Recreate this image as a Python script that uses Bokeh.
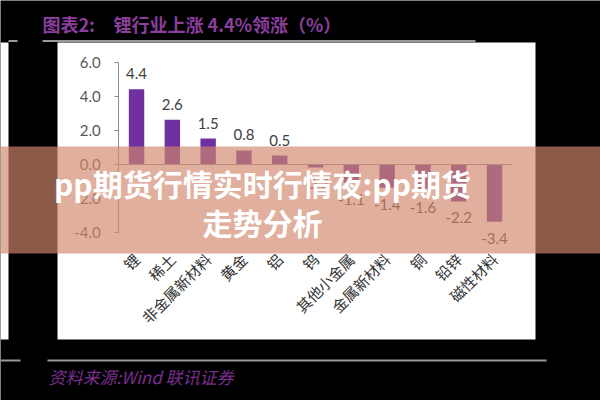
import math
from bokeh.plotting import figure
from bokeh.models import (ColumnDataSource, Range1d, LinearAxis, FixedTicker,
                          BoxAnnotation, Label, NumeralTickFormatter)
from bokeh.embed import file_html
from bokeh.resources import INLINE
from bokeh.core.properties import value

# ---- data ----
categories = ["锂", "稀土", "非金属新材料", "黄金", "铝", "钨",
              "其他小金属", "金属新材料", "铜", "铅锌", "磁性材料"]
changes = [4.4, 2.6, 1.5, 0.8, 0.5, -0.2, -1.1, -1.4, -1.6, -2.2, -3.4]
y_ticks = [-4, -2, 0, 2, 4, 6]
title_prefix = "图表2:"
title_text = "锂行业上涨 4.4%领涨（%）"
source_text = "资料来源:Wind  联讯证券"
banner_lines = ["pp期货行情实时行情夜:pp期货", "走势分析"]

W, H = 600, 400
idx = list(range(len(categories)))
labels = [f"{v:.1f}" for v in changes]

src = ColumnDataSource(dict(x=idx, top=changes))
pos_src = ColumnDataSource(dict(
    x=[i for i, v in zip(idx, changes) if v >= 0],
    y=[v for v in changes if v >= 0],
    t=[l for l, v in zip(labels, changes) if v >= 0]))
neg_src = ColumnDataSource(dict(
    x=[i for i, v in zip(idx, changes) if v < 0],
    y=[v for v in changes if v < 0],
    t=[l for l, v in zip(labels, changes) if v < 0]))

p = figure(width=W, height=H, output_backend="svg", toolbar_location=None,
           x_range=Range1d(-3.80, 12.96), y_range=Range1d(-13.91, 9.62),
           x_axis_type=None, y_axis_type=None, min_border=0,
           background_fill_color="black", border_fill_color="black",
           outline_line_color=None)


def box(l, t, r, b, color, alpha=1.0, level="underlay"):
    ba = BoxAnnotation(left=l, right=r, top=H - t, bottom=H - b,
                       left_units="screen", right_units="screen",
                       top_units="screen", bottom_units="screen",
                       fill_color=color, fill_alpha=alpha, line_color=None,
                       level=level)
    p.add_layout(ba)


# background panels and rules
box(57, 42, 535, 339, "white")
box(0, 42, 8, 339, "white")
box(42, 39.5, 475, 41.5, "#9a9a9a")
box(8, 39.5, 17, 41.5, "#9a9a9a")
box(0, 359, 20, 361, "#9a9a9a")
box(47, 359, 546, 361, "#9a9a9a")

# bars
p.vbar(x="x", top="top", bottom=0, width=0.43, source=src,
       fill_color="#7030A0", line_color=None)

p.text(x="x", y="y", text="t", source=pos_src, text_align="center",
       text_baseline="bottom", y_offset=-10, text_font=value("Lato"),
       text_font_size="15px", text_color="#404040")
p.text(x="x", y="y", text="t", source=neg_src, text_align="center",
       text_baseline="top", y_offset=11, text_font=value("Lato"),
       text_font_size="15px", text_color="#404040")

# y axis
yax = LinearAxis(fixed_location=idx[0] - 0.5, bounds=(y_ticks[0], y_ticks[-1]),
                 ticker=FixedTicker(ticks=y_ticks),
                 formatter=NumeralTickFormatter(format="0.0"))
yax.axis_line_color = "#8c8c8c"
yax.major_tick_line_color = "#8c8c8c"
yax.major_tick_in = 0
yax.major_tick_out = 4
yax.minor_tick_line_color = None
yax.major_label_text_font_size = "15px"
yax.major_label_text_font = "Lato"
yax.major_label_text_color = "#595959"
yax.major_label_standoff = 14
p.add_layout(yax, "left")

# zero line
zax = LinearAxis(fixed_location=0, bounds=(idx[0] - 0.5, idx[-1] + 0.5),
                 ticker=FixedTicker(ticks=[]))
zax.axis_line_color = "#8c8c8c"
zax.major_tick_line_color = None
zax.minor_tick_line_color = None
zax.major_label_text_font_size = "0px"
p.add_layout(zax, "below")

# category labels
xax = LinearAxis(fixed_location=-4.9, ticker=FixedTicker(ticks=idx),
                 major_label_overrides={i: c for i, c in zip(idx, categories)})
xax.major_label_orientation = math.pi / 4
xax.axis_line_color = None
xax.major_tick_line_color = None
xax.minor_tick_line_color = None
xax.major_label_text_font_size = "15px"
xax.major_label_text_font = "Noto Sans CJK SC"
xax.major_label_text_color = "#333333"
xax.major_label_standoff = 3
p.add_layout(xax, "below")

# titles
p.add_layout(Label(x=42, y=H - 23.5, x_units="screen", y_units="screen",
                   text=title_prefix, text_font="Noto Sans CJK SC",
                   text_font_size="18px", text_font_style="bold",
                   text_color="#8C3E9E", text_baseline="middle"))
p.add_layout(Label(x=113, y=H - 23.5, x_units="screen", y_units="screen",
                   text=title_text, text_font="Noto Sans CJK SC",
                   text_font_size="18px", text_font_style="bold",
                   text_color="#8C3E9E", text_baseline="middle"))
p.add_layout(Label(x=48, y=H - 376, x_units="screen", y_units="screen",
                   text=source_text, text_font="Noto Sans CJK SC",
                   text_font_size="17px", text_font_style="italic",
                   text_color="#7A2E8E", text_baseline="middle"))

# banner overlay
box(0, 146, 600, 253, "#D0876C", 0.667, level="annotation")
for txt, yc in zip(banner_lines, [182, 221]):
    p.add_layout(Label(x=262, y=H - yc, x_units="screen", y_units="screen",
                       text=txt, text_font="Noto Sans CJK SC",
                       text_font_size="30px", text_font_style="bold",
                       text_color="white", text_align="center",
                       text_baseline="middle", level="overlay"))

open("out.html", "w").write(file_html(p, INLINE))
